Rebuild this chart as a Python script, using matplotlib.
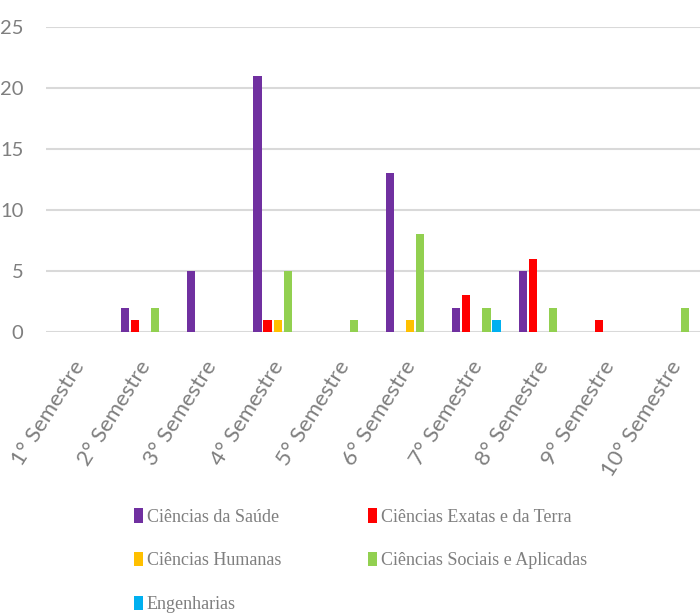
import matplotlib
matplotlib.use("Agg")
import matplotlib.pyplot as plt
from matplotlib.patches import Patch
import numpy as np

semestres = ["1° Semestre", "2° Semestre", "3° Semestre", "4° Semestre", "5° Semestre",
             "6° Semestre", "7° Semestre", "8° Semestre", "9° Semestre", "10° Semestre"]

areas = ["Ciências da Saúde", "Ciências Exatas e da Terra", "Ciências Humanas",
         "Ciências Sociais e Aplicadas", "Engenharias"]
cores = ["#7030a0", "#ff0000", "#ffc000", "#92d050", "#00b0f0"]

saude = [0, 2, 5, 21, 0, 13, 2, 5, 0, 0]
exatas = [0, 1, 0, 1, 0, 0, 3, 6, 1, 0]
humanas = [0, 0, 0, 1, 0, 1, 0, 0, 0, 0]
sociais = [0, 2, 0, 5, 1, 8, 2, 2, 0, 2]
engenharias = [0, 0, 0, 0, 0, 0, 1, 0, 0, 0]
series = [saude, exatas, humanas, sociais, engenharias]

cinza = "#7f7f7f"

fig = plt.figure(figsize=(7, 6.15), dpi=100)
# plot area runs slightly past the right edge of the figure
ax = fig.add_axes([45.5 / 700, 1 - 332 / 615, 663 / 700, 305 / 615])

x = np.arange(len(semestres))
passo = 0.151
largura = 0.122
for i, (vals, cor, nome) in enumerate(zip(series, cores, areas)):
    ax.bar(x + (i - 2) * passo, vals, width=largura, color=cor, label=nome, zorder=3)

ax.set_xlim(-0.5, len(semestres) - 0.5)
ax.set_ylim(0, 25)
ax.grid(axis="y", color="#d9d9d9", linewidth=1.5, zorder=0)
ax.tick_params(axis="both", length=0)
for s in ax.spines.values():
    s.set_visible(False)

fonte_eixo = ["Lato", "Open Sans", "DejaVu Sans"]
ax.set_yticks(range(0, 26, 5))
ax.set_yticklabels([str(v) for v in range(0, 26, 5)], fontsize=14.5, color=cinza,
                   family=fonte_eixo)
ax.tick_params(axis="y", pad=16)

ax.set_xticks(x + 0.02)
ax.set_xticklabels(semestres, rotation=58, ha="right", va="center",
                   rotation_mode="anchor", fontsize=16, color=cinza, family=fonte_eixo)
ax.tick_params(axis="x", pad=22)

# legend filled row by row: two columns
ordem = [0, 2, 4, 1, 3]
handles = [Patch(facecolor=cores[k], edgecolor="none") for k in ordem]
labels = [areas[k] for k in ordem]
leg = fig.legend(handles, labels, ncol=2, loc="upper left",
                 bbox_to_anchor=(118 / 700, 1 - 492 / 615),
                 frameon=False, handlelength=0.5, handleheight=0.85,
                 handletextpad=0.2, columnspacing=4.8, labelspacing=1.45,
                 prop={"family": ["Liberation Serif", "DejaVu Serif"], "size": 13})
for t in leg.get_texts():
    t.set_color(cinza)

plt.savefig("out.png", dpi=100)
